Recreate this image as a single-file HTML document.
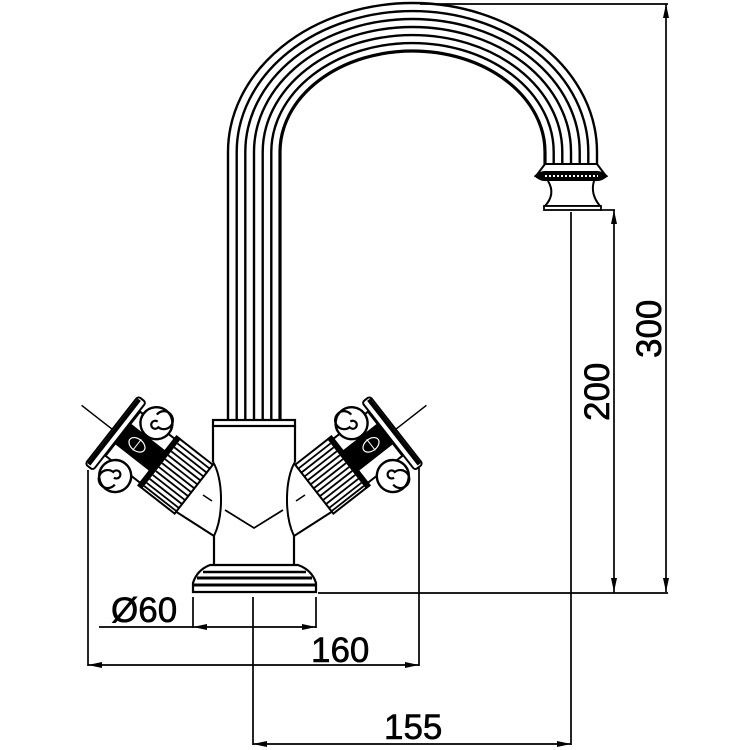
<!DOCTYPE html>
<html><head><meta charset="utf-8"><style>
html,body{margin:0;padding:0;background:#fff;}
svg{display:block;}
text{font-family:"Liberation Sans",Arial,sans-serif;fill:#000;stroke:#000;stroke-width:0.6;}
</style></head><body>
<svg width="750" height="750" viewBox="0 0 750 750" xmlns="http://www.w3.org/2000/svg">
<defs>
<g id="handle">
  <path d="M295,462 C285,478 284,515 294,536" fill="none" stroke="#000" stroke-width="2"/>
  <path d="M294,536 L333,511" fill="none" stroke="#000" stroke-width="2"/>
  <line x1="296" y1="501" x2="305" y2="495" stroke="#000" stroke-width="1.5"/>
  <g transform="translate(393,434) rotate(52)">
    <line x1="-2" y1="-4" x2="-2" y2="-44" stroke="#000" stroke-width="1.5"/>
    <rect x="-33" y="6" width="56" height="44" fill="#fff" stroke="#000" stroke-width="2"/>
    <rect x="-18" y="6" width="26" height="44" fill="#000"/>
    <ellipse cx="-5" cy="24" rx="6" ry="9" fill="none" stroke="#fff" stroke-width="1.2"/>
    <line x1="-12" y1="24" x2="2" y2="24" stroke="#fff" stroke-width="1"/>
    <circle cx="-34" cy="26" r="16" fill="#fff" stroke="#000" stroke-width="2.4"/>
    <path d="M-34,26 m-2,0 a4,4 0 1 1 4,4 a9,9 0 1 1 -9,-9" fill="none" stroke="#000" stroke-width="2.2"/>
    <circle cx="33" cy="26" r="16" fill="#fff" stroke="#000" stroke-width="2.4"/>
    <path d="M33,26 m2,0 a4,4 0 1 1 -4,-4 a9,9 0 1 1 9,9" fill="none" stroke="#000" stroke-width="2.2"/>
    <rect x="-44" y="-5" width="86" height="10" rx="3" fill="#fff" stroke="#000" stroke-width="2"/>
    <rect x="-42" y="-4" width="82" height="4" fill="#000"/>
    <rect x="-36" y="50" width="62" height="46" fill="#fff" stroke="#000" stroke-width="2"/>
    <rect x="-37" y="50" width="64" height="5" fill="#000"/>
    <g stroke="#000" stroke-width="1.8">
      <line x1="-31" y1="55" x2="-31" y2="96"/><line x1="-26" y1="55" x2="-26" y2="96"/>
      <line x1="-21" y1="55" x2="-21" y2="96"/><line x1="-16" y1="55" x2="-16" y2="96"/>
      <line x1="-11" y1="55" x2="-11" y2="96"/><line x1="-6" y1="55" x2="-6" y2="96"/>
      <line x1="-1" y1="55" x2="-1" y2="96"/><line x1="4" y1="55" x2="4" y2="96"/>
      <line x1="9" y1="55" x2="9" y2="96"/><line x1="14" y1="55" x2="14" y2="96"/>
      <line x1="19" y1="55" x2="19" y2="96"/><line x1="23" y1="55" x2="23" y2="96"/>
    </g>
  </g>
</g>
</defs>

<g fill="none" stroke="#000" stroke-width="2.4">
  <path d="M228,420 L228,152 A184.5,149 0 0 1 597,152 L597,165"/>
  <path d="M236.7,420 L236.7,152 A175.8,141 0 0 1 588.3,152 L588.3,165"/>
  <path d="M245.3,420 L245.3,152 A167.2,133 0 0 1 579.7,152 L579.7,165"/>
  <path d="M254,420 L254,152 A158.5,125 0 0 1 571,152 L571,165"/>
  <path d="M262.7,420 L262.7,152 A149.8,117 0 0 1 562.3,152 L562.3,165"/>
  <path d="M271.3,420 L271.3,152 A141.2,109 0 0 1 553.7,152 L553.7,165"/>
  <path d="M280,420 L280,152 A132.5,101 0 0 1 545,152 L545,165" stroke-width="3.2"/>
</g>
<path d="M545,164 L597,164 L606,176 L536,176 Z" fill="#fff" stroke="#000" stroke-width="2"/>
<path d="M534,176 Q540,170 548,171 L594,171 Q602,170 608,176 Q602,182 594,181 L548,181 Q540,182 534,176 Z" fill="#000"/>
<line x1="545" y1="176" x2="598" y2="176" stroke="#fff" stroke-width="2" stroke-dasharray="2,2"/>
<path d="M548,181 Q556,194 545,206 L600,206 Q590,194 594,181" fill="#fff" stroke="#000" stroke-width="2"/>
<rect x="544" y="206" width="57" height="4" fill="#fff" stroke="#000" stroke-width="1.8"/>

<rect x="213" y="420" width="82" height="6" fill="#fff" stroke="#000" stroke-width="2.2"/>
<line x1="213" y1="426" x2="213" y2="462" stroke="#000" stroke-width="2.2"/>
<line x1="295" y1="426" x2="295" y2="462" stroke="#000" stroke-width="2.2"/>
<line x1="214" y1="536" x2="214" y2="565" stroke="#000" stroke-width="2.2"/>
<line x1="294" y1="536" x2="294" y2="565" stroke="#000" stroke-width="2.2"/>
<polyline points="225,510 254,528 283,510" fill="none" stroke="#000" stroke-width="1.8"/>

<use href="#handle"/>
<use href="#handle" transform="translate(508,0) scale(-1,1)"/>

<path d="M210,565 L298,565 Q312,570 316,583 L316,592 L193,592 L193,583 Q197,570 210,565 Z" fill="#fff" stroke="#000" stroke-width="2.2"/>
<line x1="203" y1="572" x2="306" y2="572" stroke="#000" stroke-width="2.5"/>
<line x1="197" y1="578" x2="312" y2="578" stroke="#000" stroke-width="3"/>
<line x1="194" y1="585" x2="315" y2="585" stroke="#000" stroke-width="3"/>

<g stroke="#000" stroke-width="1.7" fill="none">
  <line x1="420" y1="4" x2="668" y2="4"/>
  <line x1="666" y1="4" x2="666" y2="592"/>
  <line x1="318" y1="593" x2="668" y2="593"/>
  <line x1="600" y1="210" x2="615" y2="210"/>
  <line x1="614" y1="210" x2="614" y2="593"/>
  <line x1="571" y1="212" x2="571" y2="745"/>
  <line x1="253" y1="597" x2="253" y2="745"/>
  <line x1="253" y1="744" x2="571" y2="744"/>
  <line x1="88" y1="470" x2="88" y2="666"/>
  <line x1="419" y1="467" x2="419" y2="666"/>
  <line x1="88" y1="665" x2="419" y2="665"/>
  <line x1="193" y1="597" x2="193" y2="628"/>
  <line x1="316" y1="597" x2="316" y2="628"/>
  <line x1="99" y1="627" x2="316" y2="627"/>
</g>
<g fill="#000">
  <path d="M666,4 l-3,14 l6,0 Z"/>
  <path d="M666,592 l-3,-14 l6,0 Z"/>
  <path d="M614,210 l-3,14 l6,0 Z"/>
  <path d="M614,592 l-3,-14 l6,0 Z"/>
  <path d="M253,744 l14,-3 l0,6 Z"/>
  <path d="M571,744 l-14,-3 l0,6 Z"/>
  <path d="M88,665 l14,-3 l0,6 Z"/>
  <path d="M419,665 l-14,-3 l0,6 Z"/>
  <path d="M193,627 l14,-3 l0,6 Z"/>
  <path d="M316,627 l-14,-3 l0,6 Z"/>
</g>

<text x="111" y="622" font-size="35">Ø60</text>
<text x="311" y="662" font-size="35">160</text>
<text x="384" y="739" font-size="35">155</text>
<text transform="translate(609,421) rotate(-90)" font-size="35">200</text>
<text transform="translate(661,358) rotate(-90)" font-size="35">300</text>
</svg>
</body></html>
